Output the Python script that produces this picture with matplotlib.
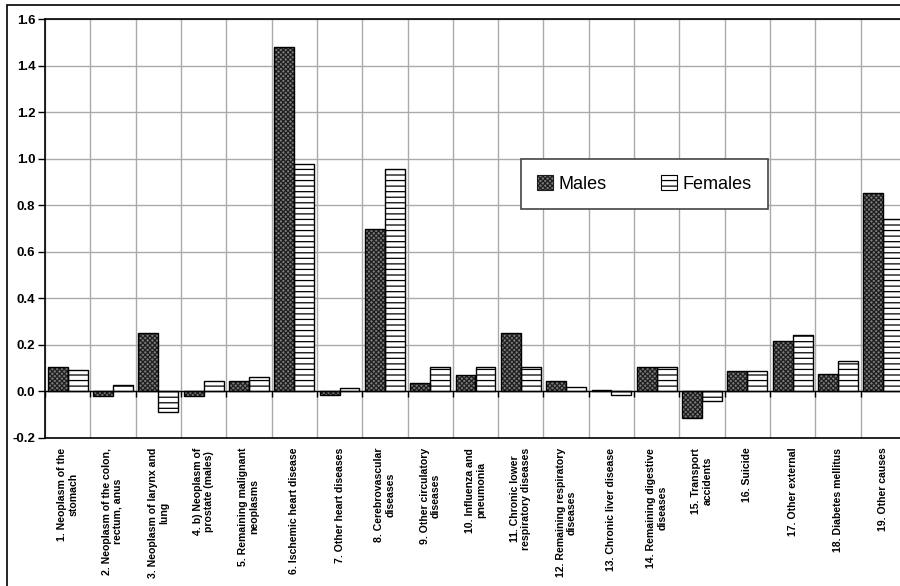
import numpy as np
import matplotlib
matplotlib.use('Agg')
import matplotlib.pyplot as plt
from matplotlib.patches import Patch, Rectangle
from matplotlib.ticker import FormatStrFormatter

categories = ['1. Neoplasm of the\nstomach',
              '2. Neoplasm of the colon,\nrectum, anus',
              '3. Neoplasm of larynx and\nlung',
              '4. b) Neoplasm of\nprostate (males)',
              '5. Remaining malignant\nneoplasms',
              '6. Ischemic heart disease',
              '7. Other heart diseases',
              '8. Cerebrovascular\ndiseases',
              '9. Other circulatory\ndiseases',
              '10. Influenza and\npneumonia',
              '11. Chronic lower\nrespiratory diseases',
              '12. Remaining respiratory\ndiseases',
              '13. Chronic liver disease',
              '14. Remaining digestive\ndiseases',
              '15. Transport\naccidents',
              '16. Suicide',
              '17. Other external',
              '18. Diabetes mellitus',
              '19. Other causes']
males = [0.107, -0.021, 0.253, -0.021, 0.044, 1.48, -0.015, 0.70, 0.036, 0.070,
         0.253, 0.045, 0.005, 0.107, -0.112, 0.086, 0.215, 0.077, 0.851]
females = [0.090, 0.027, -0.090, 0.047, 0.060, 0.975, 0.013, 0.955, 0.107, 0.106,
           0.103, 0.017, -0.017, 0.105, -0.043, 0.086, 0.243, 0.131, 0.739]
yticks = [-0.2, 0.0, 0.2, 0.4, 0.6, 0.8, 1.0, 1.2, 1.4, 1.6]

plt.rcParams['font.family'] = ['Liberation Sans', 'DejaVu Sans']
plt.rcParams['hatch.linewidth'] = 0.9

fig = plt.figure(figsize=(9, 5.86), dpi=100)
ax = fig.add_axes([45/900, 1 - 438/586, 861/900, 419/586])

x = np.arange(len(categories))
w = 0.44
m_face = '#7a7a7a'
m_hatch = '#1e1e1e'

ax.bar(x - w/2, males, w, color=m_face, edgecolor=m_hatch, hatch='xxxxxxx', linewidth=0, zorder=3)
ax.bar(x - w/2, males, w, fill=False, edgecolor='black', linewidth=1.0, zorder=4)
ax.bar(x + w/2, females, w, color='white', edgecolor='black', hatch='---', linewidth=0, zorder=3)
ax.bar(x + w/2, females, w, fill=False, edgecolor='black', linewidth=1.0, zorder=4)

ax.set_xlim(-0.5, len(categories) - 0.5)
ax.set_ylim(-0.2, 1.6)
ax.set_yticks(yticks)
ax.yaxis.set_major_formatter(FormatStrFormatter('%.1f'))
ax.tick_params(axis='y', length=5, width=1, labelsize=9.5, pad=2)
for lab in ax.get_yticklabels():
    lab.set_fontweight('bold')

# category boundaries as gridlines
ax.set_xticks(np.arange(len(categories) + 1) - 0.5, minor=True)
ax.set_xticks(x)
ax.set_xticklabels(categories, rotation=90, ha='center', va='top',
                   multialignment='center', fontsize=7.6, fontweight='bold',
                   linespacing=1.15)
ax.tick_params(axis='x', which='major', length=0, pad=7)
ax.tick_params(axis='x', which='minor', length=0)
ax.grid(True, axis='y', color='#aaaaaa', linewidth=1, zorder=0)
ax.grid(True, axis='x', which='minor', color='#aaaaaa', linewidth=1, zorder=0)
ax.set_axisbelow(True)

ax.axhline(0, color='black', linewidth=1, zorder=5)
ax.vlines(np.arange(len(categories) + 1) - 0.5, -0.022, 0, color='black', linewidth=1, zorder=5)

for s in ax.spines.values():
    s.set_linewidth(1.2)
    s.set_color('black')

handles = [Patch(facecolor=m_face, edgecolor=m_hatch, hatch='xxxxxxx', linewidth=0.8, label='Males'),
           Patch(facecolor='white', edgecolor='black', hatch='---', linewidth=0.8, label='Females')]
leg = ax.legend(handles=handles, loc='center', bbox_to_anchor=(0.696, 0.607), ncol=2,
                fontsize=13, frameon=True, fancybox=False, edgecolor='#444444',
                handlelength=0.9, handleheight=0.9, handletextpad=0.3, columnspacing=3.0,
                borderpad=0.9, framealpha=1)
leg.get_frame().set_linewidth(1.2)
leg.set_zorder(10)

fig.patches.append(Rectangle((7/900, -0.1), 1.2, 1.1 - 5/586, transform=fig.transFigure,
                             fill=False, edgecolor='black', linewidth=1.2))

fig.savefig('out.png', dpi=100)
